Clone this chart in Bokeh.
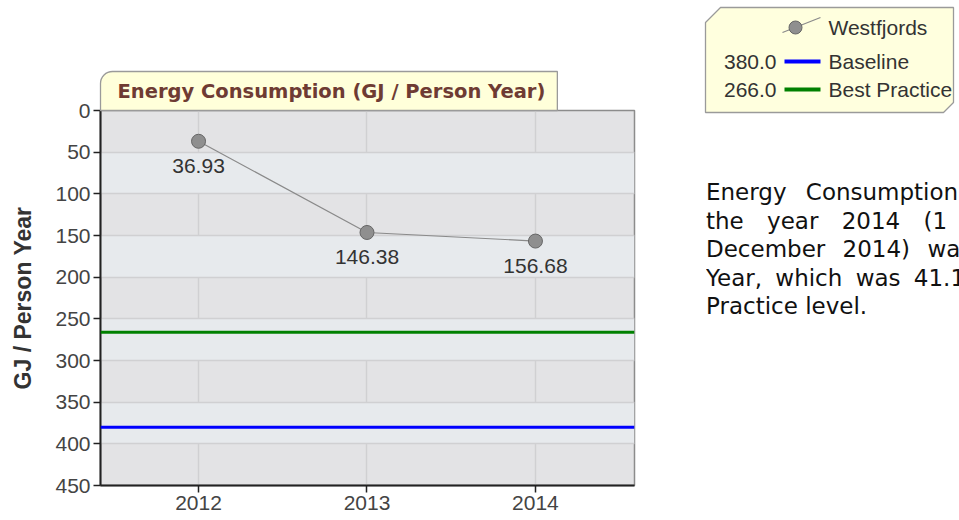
from bokeh.plotting import figure
from bokeh.models import Range1d, FixedTicker, Span, Title, Div
from bokeh.layouts import row, column
from bokeh.core.properties import value
from bokeh.embed import file_html
from bokeh.resources import INLINE

# ---------------- data ----------------
years = [2012, 2013, 2014]
consumption = [36.93, 146.38, 156.68]
point_labels = ["36.93", "146.38", "156.68"]
baseline_value = 380.0
best_practice_value = 266.0
y_ticks = [0, 50, 100, 150, 200, 250, 300, 350, 400, 450]
x_ticks = [2012, 2013, 2014]
legend_names = ["Westfjords", "Baseline", "Best Practice"]
title_text = "Energy Consumption (GJ / Person Year)"
y_label = "GJ / Person Year"
summary_lines = [
    "Energy Consumption in Westfjords for",
    "the year 2014 (1 January 2014 - 31",
    "December 2014) was 156.68 GJ / Person",
    "Year, which was 41.1% better than the Best",
    "Practice level.",
]
summary_spacing = [12, 16, 10, 6, 0]

# ---------------- main chart ----------------
p = figure(width=700, height=520, output_backend="svg", toolbar_location=None,
           x_range=Range1d(2011.418, 2014.588), y_range=Range1d(450, 0),
           min_border_left=100, min_border_right=66, min_border_top=110, min_border_bottom=35,
           background_fill_color="#E3E3E5", border_fill_color="white",
           outline_line_color="#8C8C8C", outline_line_width=1.5)

p.title = Title(text=title_text, align="left", offset=0, standoff=0, vertical_align="bottom",
                text_font="DejaVu Sans", text_font_style="bold", text_font_size="19.5px",
                text_color="#6E3B33", background_fill_color="#FFFFDA",
                border_line_color="#9A9A9A", border_line_width=1.3,
                padding=dict(left=17, right=12, top=8, bottom=8),
                border_radius=dict(top_left=12, top_right=0, bottom_right=0, bottom_left=0))

xt = FixedTicker(ticks=x_ticks)
yt = FixedTicker(ticks=y_ticks)
p.xaxis.ticker = xt
p.yaxis.ticker = yt
p.xgrid.ticker = xt
p.ygrid.ticker = yt
p.grid.grid_line_color = "#D0D0D2"
p.grid.grid_line_width = 1.5
p.ygrid.band_fill_color = "#E7EAED"
p.ygrid.band_fill_alpha = 1.0

p.axis.axis_line_color = "#222222"
p.axis.axis_line_width = 2
p.axis.major_tick_line_color = "#222222"
p.axis.major_tick_line_width = 1.5
p.axis.major_tick_out = 7
p.axis.major_tick_in = 0
p.axis.minor_tick_out = 0
p.axis.minor_tick_in = 0
p.axis.major_label_text_font = "Liberation Sans"
p.axis.major_label_text_font_size = "21px"
p.axis.major_label_text_color = "#444444"
p.xaxis.major_label_standoff = 3
p.yaxis.major_label_standoff = 3
p.yaxis.axis_label = y_label
p.yaxis.axis_label_text_font = "Liberation Sans"
p.yaxis.axis_label_text_font_style = "bold"
p.yaxis.axis_label_text_font_size = "23px"
p.yaxis.axis_label_text_color = "#333333"
p.yaxis.axis_label_standoff = 16

p.add_layout(Span(location=best_practice_value, dimension="width", line_color="#008000", line_width=3))
p.add_layout(Span(location=baseline_value, dimension="width", line_color="#0000FF", line_width=3))

p.line(years, consumption, line_color="#8A8A8A", line_width=1.2)
p.scatter(years, consumption, size=14, fill_color="#8F8F8F", line_color="#666666", line_width=1)
p.text(years, consumption, text=point_labels, y_offset=25, text_align="center",
       text_baseline="middle", text_font=value("Liberation Sans"), text_font_size="21px",
       text_color="#333333")

# ---------------- legend ----------------
lg = figure(width=259, height=115, output_backend="svg", toolbar_location=None,
            x_range=Range1d(0, 259), y_range=Range1d(115, 0),
            x_axis_type=None, y_axis_type=None,
            min_border_left=0, min_border_right=0, min_border_top=0, min_border_bottom=0,
            background_fill_color="white", border_fill_color="white", outline_line_color=None)
lg.grid.visible = False
lg.patch([5, 5, 20, 253, 253, 243], [112, 22, 7, 7, 102, 112],
         fill_color="#FFFFDE", line_color="#9A9A9A", line_width=1.3)
row_y = [27, 61, 89]
lg.line([82, 120], [32, 17], line_color="#8A8A8A", line_width=1.2)
lg.scatter([95], [row_y[0]], size=13, fill_color="#8F8F8F", line_color="#666666", line_width=1)
lg.segment(x0=[84, 84], x1=[120, 120], y0=row_y[1:], y1=row_y[1:],
           line_color=["#0000FF", "#008000"], line_width=4)
lg.text([76, 76], row_y[1:], text=[f"{baseline_value:.1f}", f"{best_practice_value:.1f}"],
        text_align="right", text_baseline="middle", text_font=value("Liberation Sans"),
        text_font_size="21px", text_color="#333333")
lg.text([128, 128, 128], row_y, text=legend_names, text_align="left", text_baseline="middle",
        text_font=value("Liberation Sans"), text_font_size="21px", text_color="#333333")

# ---------------- summary text ----------------
lines_html = "".join(
    f'<div style="white-space:nowrap;word-spacing:{ws}px;">{t}</div>'
    for t, ws in zip(summary_lines, summary_spacing))
html = ('<div style="font-family:\'DejaVu Sans\';font-size:23px;line-height:28.5px;color:#111;">'
        + lines_html + '</div>')
div = Div(text=html, width=253, height=160, margin=(63, 0, 0, 6), styles={"overflow": "hidden"})

layout = row(p, column(lg, div))
open("out.html", "w").write(file_html(layout, INLINE))
